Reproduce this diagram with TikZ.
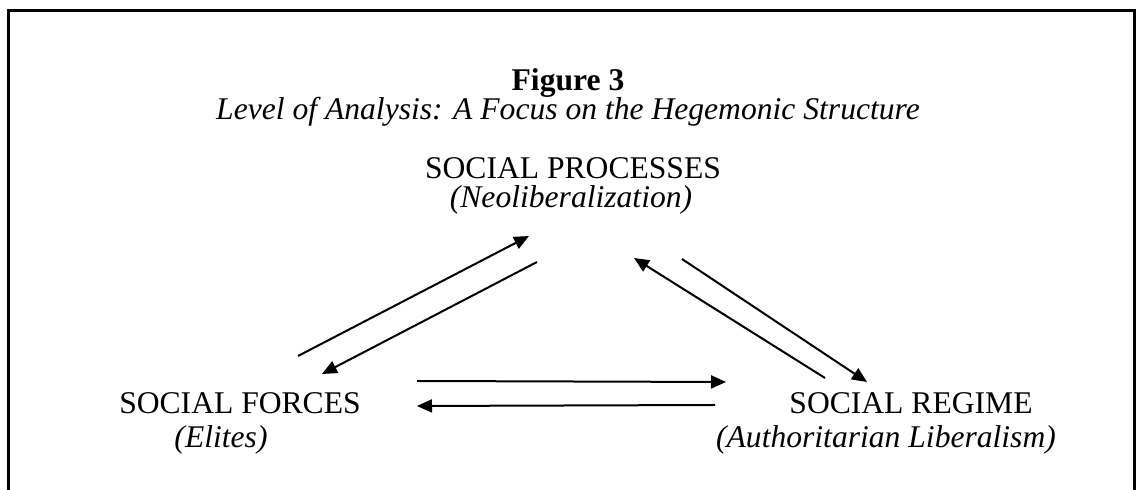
\documentclass[tikz,border=0pt]{standalone}
\usepackage{fontspec}
\setmainfont{Liberation Serif}
\usetikzlibrary{arrows.meta}
\tikzset{
  frameline/.style={line width=1.5pt, line cap=rect},
  lbl/.style={inner sep=0pt, font=\fontsize{15.8}{19}\selectfont},
  sub/.style={inner sep=0pt, font=\fontsize{15.8}{19}\selectfont\itshape},
  link/.style={line width=1pt, -{Triangle[length=7.5pt,width=6.5pt]}}
}
\begin{document}
\begin{tikzpicture}[x=0.5pt,y=-0.5pt]
\useasboundingbox (0,0) rectangle (1136,490);
% frame
\draw[frameline] (8,490) -- (8,11) -- (1134.5,11) -- (1134.5,490);
% titles
\node[lbl, font=\fontsize{15.8}{19}\selectfont\bfseries] (fig) at (568,83) {Figure 3};
\node[sub] (title) at (568,112) {Level of Analysis: A Focus on the Hegemonic Structure};
% nodes
\node[lbl] (sp) at (573,168) {SOCIAL PROCESSES};
\node[sub] (spi) at (571,200) {(Neoliberalization)};
\node[lbl] (sf) at (240,403) {SOCIAL FORCES};
\node[sub] (sfi) at (221,440) {(Elites)};
\node[lbl] (sr) at (911,403) {SOCIAL REGIME};
\node[sub] (sri) at (886,440) {(Authoritarian Liberalism)};
% connector end points
\coordinate (a1s) at (298,356);
\coordinate (a1e) at (529,236);
\coordinate (a2s) at (537,262);
\coordinate (a2e) at (322,374);
\coordinate (a3s) at (825,378);
\coordinate (a3e) at (634,258);
\coordinate (a4s) at (682,259);
\coordinate (a4e) at (867,382);
\coordinate (a5s) at (417,381);
\coordinate (a5e) at (726,382);
\coordinate (a6s) at (715,405);
\coordinate (a6e) at (417,406);
% connectors
\draw[link] (a1s) -- (a1e);
\draw[link] (a2s) -- (a2e);
\draw[link] (a3s) -- (a3e);
\draw[link] (a4s) -- (a4e);
\draw[link] (a5s) -- (a5e);
\draw[link] (a6s) -- (a6e);
\end{tikzpicture}
\end{document}
